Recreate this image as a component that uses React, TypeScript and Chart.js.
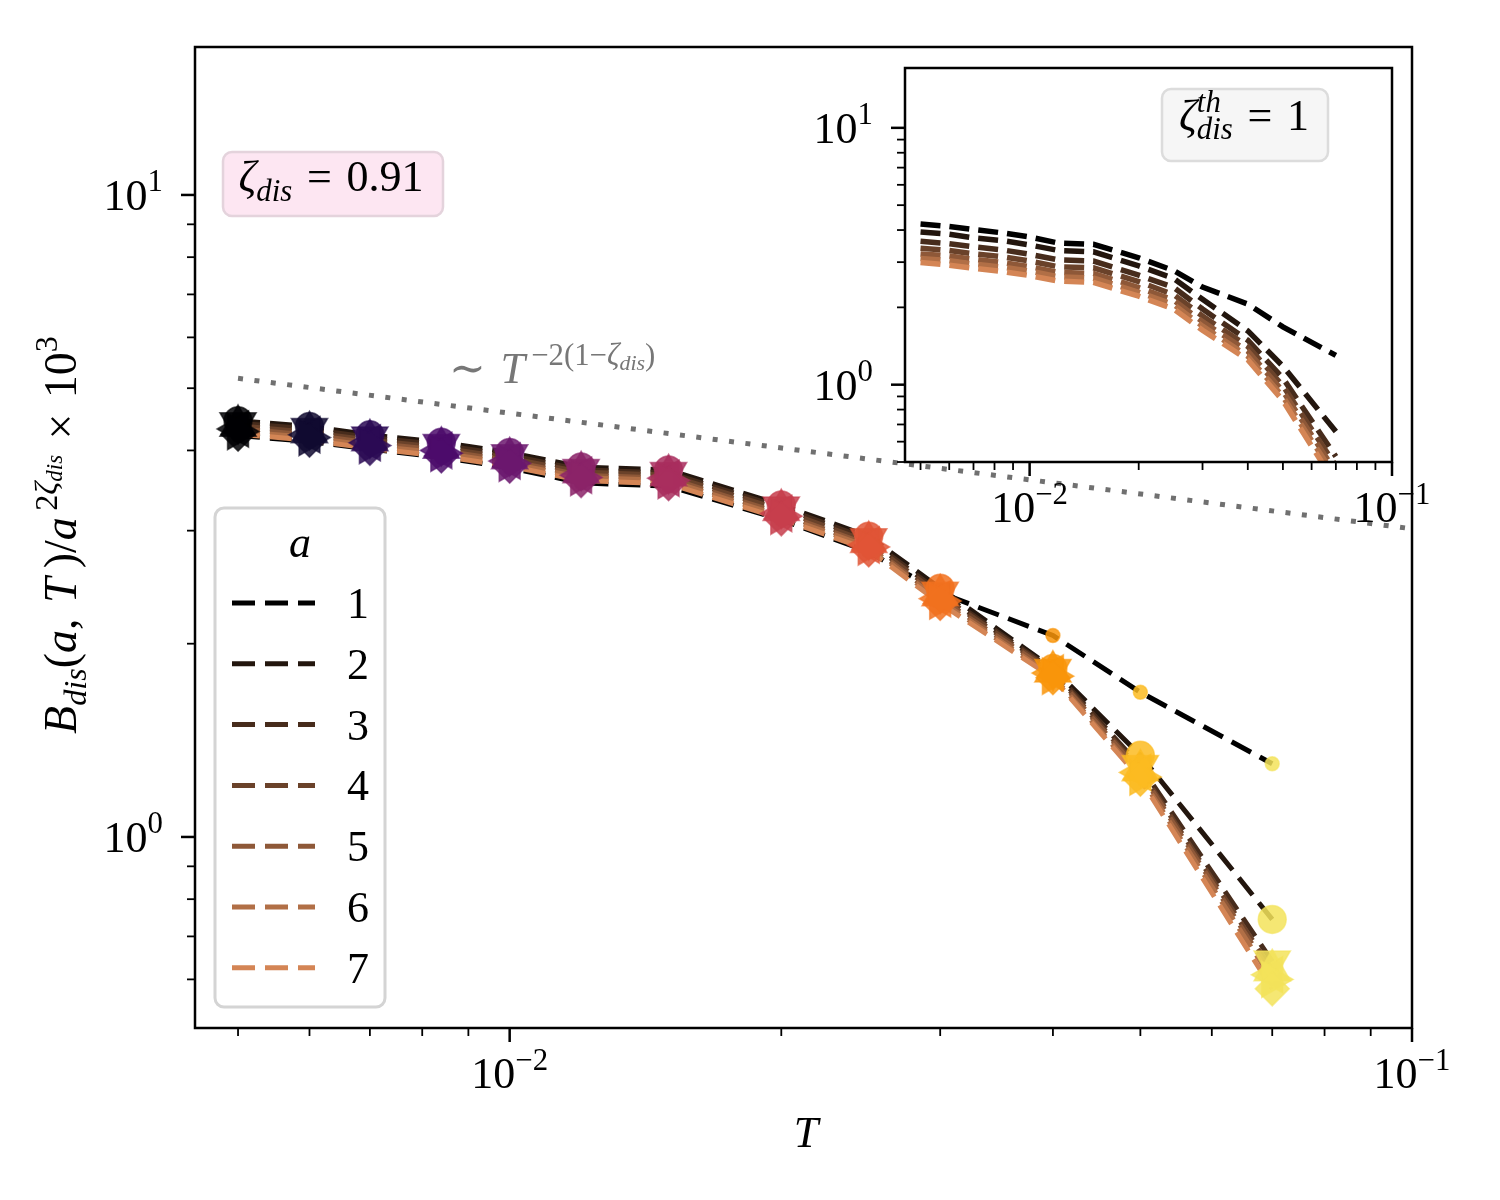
import React, { useEffect, useRef } from "react";
import { Chart, registerables } from "chart.js";

Chart.register(...registerables);

// temperatures and system sizes
const temps = [0.005, 0.006, 0.007, 0.0084, 0.01, 0.012, 0.015, 0.02, 0.025, 0.03, 0.04, 0.05, 0.07];
const sizes = [1, 2, 3, 4, 5, 6, 7];

// main panel: B_dis / a^(2 zeta_dis) x 10^3, zeta_dis = 0.91
const mainA1 = [4.22, 4.13, 4.02, 3.9, 3.76, 3.56, 3.52, 3.12, 2.78, 2.4, 2.06, 1.68, 1.3];
const mainA2 = [4.45, 4.36, 4.23, 4.12, 3.97, 3.77, 3.73, 3.29, 2.94, 2.44, 1.83, 1.34, 0.744];
const mainA3 = [4.41, 4.32, 4.19, 4.08, 3.93, 3.73, 3.69, 3.26, 2.91, 2.4, 1.82, 1.29, 0.64];
const mainA4 = [4.37, 4.27, 4.15, 4.04, 3.89, 3.7, 3.66, 3.23, 2.88, 2.38, 1.81, 1.27, 0.62];
const mainA5 = [4.32, 4.23, 4.11, 4.0, 3.85, 3.66, 3.62, 3.19, 2.85, 2.35, 1.8, 1.26, 0.61];
const mainA6 = [4.28, 4.19, 4.07, 3.96, 3.82, 3.63, 3.59, 3.16, 2.83, 2.33, 1.78, 1.24, 0.6];
const mainA7 = [4.24, 4.15, 4.03, 3.92, 3.78, 3.59, 3.55, 3.13, 2.8, 2.31, 1.77, 1.23, 0.58];

// inset: zeta_dis^th = 1
const insetA1 = [4.22, 4.13, 4.02, 3.9, 3.76, 3.56, 3.52, 3.12, 2.78, 2.4, 2.06, 1.68, 1.3];
const insetA2 = [3.93, 3.85, 3.73, 3.64, 3.5, 3.33, 3.29, 2.9, 2.59, 2.15, 1.62, 1.18, 0.657];
const insetA3 = [3.62, 3.54, 3.44, 3.35, 3.22, 3.06, 3.03, 2.67, 2.39, 1.97, 1.49, 1.06, 0.525];
const insetA4 = [3.4, 3.33, 3.23, 3.15, 3.03, 2.88, 2.85, 2.52, 2.24, 1.85, 1.41, 0.99, 0.483];
const insetA5 = [3.23, 3.17, 3.08, 2.99, 2.88, 2.74, 2.71, 2.39, 2.13, 1.76, 1.35, 0.943, 0.457];
const insetA6 = [3.1, 3.04, 2.95, 2.87, 2.77, 2.63, 2.6, 2.29, 2.05, 1.69, 1.29, 0.899, 0.435];
const insetA7 = [2.99, 2.92, 2.84, 2.76, 2.66, 2.53, 2.5, 2.21, 1.97, 1.63, 1.25, 0.867, 0.409];

const mainSeries = [mainA1, mainA2, mainA3, mainA4, mainA5, mainA6, mainA7];
const insetSeries = [insetA1, insetA2, insetA3, insetA4, insetA5, insetA6, insetA7];

// ~ T^{-2(1-zeta)} guide
const guideT = [0.005, 0.1];
const guideB = [5.18, 3.02];

// ticks
const xMajor = [0.01, 0.1];
const xMinor = [0.005, 0.006, 0.007, 0.008, 0.009, 0.02, 0.03, 0.04, 0.05, 0.06, 0.07, 0.08, 0.09];
const yMajor = [1, 10];
const yMinor = [0.5, 0.6, 0.7, 0.8, 0.9, 2, 3, 4, 5, 6, 7, 8, 9];

const lineColors = ["#000000", "#23160e", "#472c1c", "#6a422a", "#8e5838", "#b16f46", "#d48555"];
const markerColors = [
  "#000004", "#100a30", "#2b0a55", "#4c0c6b", "#6b176e", "#8b2369", "#a92e5e",
  "#c73e4c", "#e05536", "#f1711f", "#f9950a", "#fbbb21", "#f3e35a",
];
const pointStyles = ["circle", "circle", "triangle", "triangle", "triangle", "triangle", "rectRot"];
const pointRadii = [7, 14, 21, 21, 21, 21, 17];
const pointRotations = [0, 0, 180, 0, 270, 90, 0];

const SERIF = '"Liberation Serif", "DejaVu Serif", serif';
const FS = 44;
const EQ = "\u2004=\u2004"; // wider spacing around "=" like mathtext

type Seg = { t: string; it?: boolean; sc?: number; dy?: number; adv?: number };

const alpha = (hex: string, a: number) => {
  const n = parseInt(hex.slice(1), 16);
  return `rgba(${(n >> 16) & 255}, ${(n >> 8) & 255}, ${n & 255}, ${a})`;
};

const segFont = (s: Seg, size: number) =>
  `${s.it ? "italic " : ""}${size * (s.sc ?? 1)}px ${SERIF}`;

function richWidth(ctx: CanvasRenderingContext2D, segs: Seg[], size: number) {
  let w = 0;
  for (const s of segs) {
    ctx.font = segFont(s, size);
    w += s.adv !== undefined ? s.adv : ctx.measureText(s.t).width;
  }
  return w;
}

function drawRich(
  ctx: CanvasRenderingContext2D,
  segs: Seg[],
  x: number,
  y: number,
  size: number,
  color: string,
  align: "left" | "center" | "right"
) {
  const w = richWidth(ctx, segs, size);
  let cx = align === "center" ? x - w / 2 : align === "right" ? x - w : x;
  ctx.fillStyle = color;
  ctx.textAlign = "left";
  ctx.textBaseline = "alphabetic";
  for (const s of segs) {
    ctx.font = segFont(s, size);
    ctx.fillText(s.t, cx, y + (s.dy ?? 0) * size);
    cx += s.adv !== undefined ? s.adv : ctx.measureText(s.t).width;
  }
}

const powLabel = (v: number): Seg[] => {
  const e = Math.round(Math.log10(v));
  return [{ t: "10" }, { t: e < 0 ? "\u2212" + -e : String(e), sc: 0.7, dy: -0.42 }];
};

function drawTicks(chart: any, tickLen: number) {
  const ctx: CanvasRenderingContext2D = chart.ctx;
  const { left, right, top, bottom } = chart.chartArea;
  const xs = chart.scales.x;
  const ys = chart.scales.y;
  ctx.strokeStyle = "#000";
  const inX = (v: number) => v >= xs.min && v <= xs.max * 1.0001;
  const inY = (v: number) => v >= ys.min * 0.9999 && v <= ys.max;
  const tick = (x1: number, y1: number, x2: number, y2: number, lw: number) => {
    ctx.lineWidth = lw;
    ctx.beginPath();
    ctx.moveTo(x1, y1);
    ctx.lineTo(x2, y2);
    ctx.stroke();
  };
  xMinor.filter(inX).forEach((v) => {
    const px = xs.getPixelForValue(v);
    tick(px, bottom, px, bottom + tickLen * 0.57, 1.8);
  });
  xMajor.filter(inX).forEach((v) => {
    const px = xs.getPixelForValue(v);
    tick(px, bottom, px, bottom + tickLen, 2.5);
  });
  yMinor.filter(inY).forEach((v) => {
    const py = ys.getPixelForValue(v);
    tick(left, py, left - tickLen * 0.57, py, 1.8);
  });
  yMajor.filter(inY).forEach((v) => {
    const py = ys.getPixelForValue(v);
    tick(left, py, left - tickLen, py, 2.5);
  });
  ctx.lineWidth = 2.5;
  ctx.strokeRect(left, top, right - left, bottom - top);
  xMajor.filter(inX).forEach((v) => {
    drawRich(ctx, powLabel(v), xs.getPixelForValue(v), bottom + 60, FS, "#000", "center");
  });
  yMajor.filter(inY).forEach((v) => {
    drawRich(ctx, powLabel(v), left - tickLen - 18, ys.getPixelForValue(v) + 15, FS, "#000", "right");
  });
}

function roundBox(
  ctx: CanvasRenderingContext2D,
  x: number,
  y: number,
  w: number,
  h: number,
  fill: string,
  stroke: string,
  lw: number
) {
  ctx.beginPath();
  ctx.roundRect(x, y, w, h, 9);
  ctx.fillStyle = fill;
  ctx.fill();
  ctx.lineWidth = lw;
  ctx.strokeStyle = stroke;
  ctx.stroke();
}

const mainDecor = {
  id: "mainDecor",
  afterDraw(chart: any) {
    const ctx: CanvasRenderingContext2D = chart.ctx;
    ctx.save();
    drawTicks(chart, 14);

    // axis titles
    drawRich(ctx, [{ t: "T", it: true }], 806, 1147, FS, "#000", "center");
    ctx.save();
    ctx.translate(76, 535);
    ctx.rotate(-Math.PI / 2);
    drawRich(
      ctx,
      [
        { t: "B", it: true },
        { t: "dis", it: true, sc: 0.7, dy: 0.22 },
        { t: "(" },
        { t: "a", it: true },
        { t: ",\u2004" },
        { t: "T", it: true },
        { t: "\u2009)/" },
        { t: "a", it: true },
        { t: "\u20092", sc: 0.7, dy: -0.42 },
        { t: "\u03b6", it: true, sc: 0.7, dy: -0.42 },
        { t: "dis", it: true, sc: 0.5, dy: -0.3 },
        { t: "\u2004\u00d7\u200410" },
        { t: "3", sc: 0.7, dy: -0.42 },
      ],
      0,
      0,
      46,
      "#000",
      "center"
    );
    ctx.restore();

    // zeta box
    roundBox(ctx, 223, 152, 220, 64, "#fde6f2", "#e4d3dc", 2.5);
    drawRich(
      ctx,
      [
        { t: "\u03b6", it: true },
        { t: "dis", it: true, sc: 0.7, dy: 0.22 },
        { t: EQ + "0.91" },
      ],
      331,
      191,
      FS,
      "#000",
      "center"
    );

    // guide label
    drawRich(
      ctx,
      [
        { t: "\u223c\u2004" },
        { t: "T", it: true },
        { t: "\u2009\u22122(1\u2212", sc: 0.7, dy: -0.42 },
        { t: "\u03b6", it: true, sc: 0.7, dy: -0.42 },
        { t: "dis", it: true, sc: 0.5, dy: -0.3 },
        { t: ")", sc: 0.7, dy: -0.42 },
      ],
      449,
      383,
      FS,
      "#777777",
      "left"
    );

    // legend
    roundBox(ctx, 215, 508, 170, 499, "rgba(255,255,255,0.8)", "#d4d4d4", 3);
    drawRich(ctx, [{ t: "a", it: true }], 300, 557, FS, "#000", "center");
    sizes.forEach((a, i) => {
      const yy = 603 + i * 60.8;
      ctx.strokeStyle = lineColors[i];
      ctx.lineWidth = 5;
      ctx.setLineDash([23, 10]);
      ctx.beginPath();
      ctx.moveTo(232, yy);
      ctx.lineTo(315, yy);
      ctx.stroke();
      ctx.setLineDash([]);
      drawRich(ctx, [{ t: String(a) }], 347, yy + 15, FS, "#000", "left");
    });
    ctx.restore();
  },
};

const insetDecor = {
  id: "insetDecor",
  beforeDraw(chart: any) {
    const ctx: CanvasRenderingContext2D = chart.ctx;
    const { left, right, top, bottom } = chart.chartArea;
    ctx.save();
    ctx.fillStyle = "#ffffff";
    ctx.fillRect(left, top, right - left, bottom - top);
    ctx.restore();
  },
  afterDraw(chart: any) {
    const ctx: CanvasRenderingContext2D = chart.ctx;
    ctx.save();
    drawTicks(chart, 14);
    roundBox(ctx, 1162, 89, 166, 72, "#f6f6f6", "#dcdcdc", 2.5);
    drawRich(
      ctx,
      [
        { t: "\u03b6", it: true },
        { t: "th", it: true, sc: 0.7, dy: -0.42, adv: 0 },
        { t: "dis", it: true, sc: 0.7, dy: 0.2 },
        { t: EQ + "1" },
      ],
      1244,
      130,
      FS,
      "#000",
      "center"
    );
    ctx.restore();
  },
};

const logAxis = (min: number, max: number, fit: (s: any) => void) => ({
  type: "logarithmic" as const,
  min,
  max,
  ticks: { display: false },
  grid: { display: false },
  border: { display: false },
  afterFit: fit,
});

const App: React.FC = () => {
  const mainRef = useRef<HTMLCanvasElement | null>(null);
  const insetRef = useRef<HTMLCanvasElement | null>(null);

  useEffect(() => {
    if (!mainRef.current || !insetRef.current) return;

    const lineSets = mainSeries.map((vals, i) => ({
      label: `a = ${sizes[i]}`,
      data: temps.map((t, j) => ({ x: t, y: vals[j] })),
      borderColor: lineColors[i],
      borderWidth: 5,
      borderDash: [22, 10],
      borderCapStyle: "butt",
      pointRadius: 0,
      fill: false,
      order: 200 - i,
    }));

    const markerSets = mainSeries.map((vals, i) => ({
      label: `a = ${sizes[i]} markers`,
      data: temps.map((t, j) => ({ x: t, y: vals[j] })),
      showLine: false,
      pointStyle: pointStyles[i],
      pointRadius: pointRadii[i],
      pointRotation: pointRotations[i],
      pointBackgroundColor: markerColors.map((c) => alpha(c, 0.85)),
      pointBorderColor: markerColors.map((c) => alpha(c, 0.6)),
      pointBorderWidth: 1.5,
      order: 100 - i,
    }));

    const guideSet = {
      label: "guide",
      data: guideT.map((t, j) => ({ x: t, y: guideB[j] })),
      borderColor: "#707070",
      borderWidth: 5,
      borderDash: [5, 11.5],
      borderCapStyle: "butt",
      pointRadius: 0,
      fill: false,
      order: 300,
    };

    const mainChart = new Chart(mainRef.current, {
      type: "line",
      data: { datasets: [guideSet, ...lineSets, ...markerSets] as any },
      options: {
        animation: false,
        responsive: false,
        maintainAspectRatio: false,
        events: [],
        layout: { padding: { left: 0, top: 47, right: 88, bottom: 0 } },
        plugins: { legend: { display: false }, tooltip: { enabled: false } },
        scales: {
          x: logAxis(0.00448, 0.1, (s: any) => {
            s.height = 172;
          }),
          y: logAxis(0.504, 17.0, (s: any) => {
            s.width = 195;
          }),
        },
      },
      plugins: [mainDecor],
    });

    const insetSets = insetSeries.map((vals, i) => ({
      label: `a = ${sizes[i]}`,
      data: temps.map((t, j) => ({ x: t, y: vals[j] })),
      borderColor: lineColors[i],
      borderWidth: 5.5,
      borderDash: [20, 9],
      borderCapStyle: "butt",
      pointRadius: 0,
      fill: false,
      order: 100 - i,
    }));

    const insetChart = new Chart(insetRef.current, {
      type: "line",
      data: { datasets: insetSets as any },
      options: {
        animation: false,
        responsive: false,
        maintainAspectRatio: false,
        events: [],
        layout: { padding: { left: 805, top: 68, right: 108, bottom: 638 } },
        plugins: { legend: { display: false }, tooltip: { enabled: false } },
        scales: {
          x: logAxis(0.00453, 0.1, (s: any) => {
            s.height = 100;
          }),
          y: logAxis(0.5, 17.1, (s: any) => {
            s.width = 100;
          }),
        },
      },
      plugins: [insetDecor],
    });

    return () => {
      mainChart.destroy();
      insetChart.destroy();
    };
  }, []);

  return (
    <div style={{ position: "absolute", left: 0, top: 0, width: 1500, height: 1200, background: "#fff" }}>
      <canvas ref={mainRef} width={1500} height={1200} style={{ position: "absolute", left: 0, top: 0 }} />
      <canvas ref={insetRef} width={1500} height={1200} style={{ position: "absolute", left: 0, top: 0 }} />
    </div>
  );
};

export default App;
